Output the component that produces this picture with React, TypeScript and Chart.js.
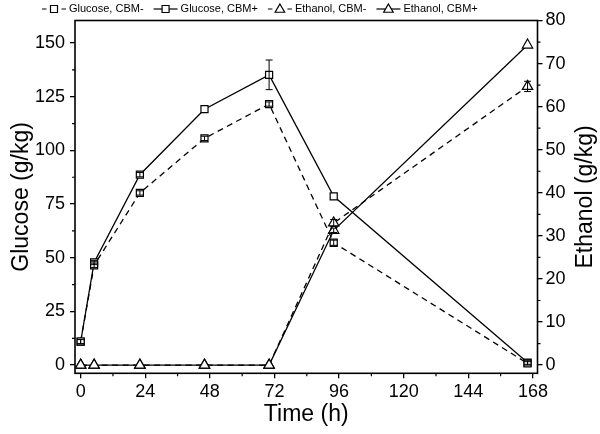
import React, { useEffect, useRef } from 'react';
import { Chart, registerables } from 'chart.js';

Chart.register(...registerables);

const FONT = '"Liberation Sans", Arial, Helvetica, sans-serif';

// ---- data ----
const timeHours = [0, 5, 22, 46, 70, 94, 166];
const glucoseMinus = [11, 46.5, 80.2, 105.6, 121.6, 57, 0.8];
const glucoseMinusErr = [1, 1, 1, 1, 1, 1.2, 0.8];
const glucosePlus = [10.9, 47.8, 88.7, 119.2, 135.2, 78.6, 1.2];
const glucosePlusErr = [1, 1, 1, 0, 6.9, 0, 0.8];
const ethanolMinus = [0, 0, 0, 0, 0, 33, 64.7];
const ethanolMinusErr = [0, 0, 0, 0, 0, 0.8, 1.2];
const ethanolPlus = [0, 0, 0, 0, 0, 31.3, 74.3];
const ethanolPlusErr = [0, 0, 0, 0, 0, 0.5, 0];

const xTicks = [0, 24, 48, 72, 96, 120, 144, 168];
const xMinorTicks = [12, 36, 60, 84, 108, 132, 156];
const glucoseTicks = [0, 25, 50, 75, 100, 125, 150];
const glucoseMinorTicks = [12.5, 37.5, 62.5, 87.5, 112.5, 137.5];
const ethanolTicks = [0, 10, 20, 30, 40, 50, 60, 70, 80];
const ethanolMinorTicks = [5, 15, 25, 35, 45, 55, 65, 75];

const seriesLabels = ['Glucose, CBM-', 'Glucose, CBM+', 'Ethanol, CBM-', 'Ethanol, CBM+'];
const ethanolAxisTitle = 'Ethanol (g/kg)';

const DASH = [6, 4.5];

function drawMarker(ctx: CanvasRenderingContext2D, style: string, x: number, y: number) {
  ctx.save();
  ctx.fillStyle = '#fff';
  ctx.strokeStyle = '#000';
  ctx.lineWidth = 1.2;
  ctx.setLineDash([]);
  ctx.beginPath();
  if (style === 'rect') {
    ctx.rect(x - 3.5, y - 3.5, 7, 7);
  } else {
    const r = 5.5;
    ctx.moveTo(x, y - r);
    ctx.lineTo(x + r * 0.866, y + r * 0.5);
    ctx.lineTo(x - r * 0.866, y + r * 0.5);
    ctx.closePath();
  }
  ctx.fill();
  ctx.stroke();
  ctx.restore();
}

const customPlugin = {
  id: 'customDecor',
  afterDatasetsDraw(chart: any) {
    const ctx: CanvasRenderingContext2D = chart.ctx;
    ctx.save();
    ctx.strokeStyle = '#000';
    ctx.lineWidth = 1;
    ctx.setLineDash([]);
    chart.data.datasets.forEach((ds: any, i: number) => {
      const meta = chart.getDatasetMeta(i);
      const yScale = chart.scales[ds.yAxisID];
      const errs: number[] = ds.errorBars || [];
      meta.data.forEach((pt: any, j: number) => {
        const e = errs[j];
        if (!e) return;
        const v = ds.data[j].y;
        const y1 = yScale.getPixelForValue(v - e);
        const y2 = yScale.getPixelForValue(v + e);
        ctx.beginPath();
        ctx.moveTo(pt.x, y1);
        ctx.lineTo(pt.x, y2);
        ctx.moveTo(pt.x - 3.5, y1);
        ctx.lineTo(pt.x + 3.5, y1);
        ctx.moveTo(pt.x - 3.5, y2);
        ctx.lineTo(pt.x + 3.5, y2);
        ctx.stroke();
      });
    });
    ctx.restore();
  },
  afterDraw(chart: any) {
    const ctx: CanvasRenderingContext2D = chart.ctx;
    const { left, right, top, bottom } = chart.chartArea;
    ctx.save();
    ctx.strokeStyle = '#000';
    ctx.setLineDash([]);
    // minor ticks
    ctx.lineWidth = 1.2;
    ctx.beginPath();
    xMinorTicks.forEach((v) => {
      const px = chart.scales.x.getPixelForValue(v);
      ctx.moveTo(px, bottom);
      ctx.lineTo(px, bottom + 3);
    });
    glucoseMinorTicks.forEach((v) => {
      const py = chart.scales.y.getPixelForValue(v);
      ctx.moveTo(left, py);
      ctx.lineTo(left - 3, py);
    });
    ethanolMinorTicks.forEach((v) => {
      const py = chart.scales.y2.getPixelForValue(v);
      ctx.moveTo(right, py);
      ctx.lineTo(right + 3, py);
    });
    ctx.stroke();
    // frame
    ctx.lineWidth = 1.6;
    ctx.strokeRect(left, top, right - left, bottom - top);

    // right axis title (reads bottom-to-top)
    ctx.save();
    ctx.fillStyle = '#000';
    ctx.font = `23px ${FONT}`;
    ctx.textAlign = 'center';
    ctx.textBaseline = 'middle';
    ctx.translate(586, (top + bottom) / 2);
    ctx.rotate(-Math.PI / 2);
    ctx.fillText(ethanolAxisTitle, 0, 0);
    ctx.restore();

    // legend
    ctx.font = `11px ${FONT}`;
    ctx.fillStyle = '#000';
    ctx.textBaseline = 'middle';
    ctx.textAlign = 'left';
    const ly = 9;
    let lx = 42;
    const styles = ['rect', 'rect', 'triangle', 'triangle'];
    const dashed = [true, false, true, false];
    seriesLabels.forEach((label, i) => {
      ctx.lineWidth = 1.2;
      ctx.beginPath();
      if (dashed[i]) {
        ctx.moveTo(lx, ly);
        ctx.lineTo(lx + 4.5, ly);
        ctx.moveTo(lx + 19.5, ly);
        ctx.lineTo(lx + 24, ly);
      } else {
        ctx.moveTo(lx, ly);
        ctx.lineTo(lx + 24, ly);
      }
      ctx.stroke();
      drawMarker(ctx, styles[i], lx + 12, ly + (styles[i] === 'triangle' ? 0.5 : 0));
      ctx.fillStyle = '#000';
      ctx.fillText(label, lx + 27, ly);
      lx += 27 + ctx.measureText(label).width + 10;
    });
    ctx.restore();
  },
};

export default function App() {
  const canvasRef = useRef<HTMLCanvasElement | null>(null);

  useEffect(() => {
    if (!canvasRef.current) return;
    const toPts = (ys: number[]) => timeHours.map((t, i) => ({ x: t, y: ys[i] }));
    const base = {
      borderColor: '#000',
      borderWidth: 1.3,
      pointBackgroundColor: '#fff',
      pointBorderColor: '#000',
      pointBorderWidth: 1.2,
      fill: false,
      tension: 0,
    };
    const chart = new Chart(canvasRef.current, {
      type: 'line',
      data: {
        datasets: [
          {
            ...base,
            label: seriesLabels[0],
            data: toPts(glucoseMinus),
            errorBars: glucoseMinusErr,
            yAxisID: 'y',
            borderDash: DASH,
            pointStyle: 'rect',
            pointRadius: 5,
          },
          {
            ...base,
            label: seriesLabels[1],
            data: toPts(glucosePlus),
            errorBars: glucosePlusErr,
            yAxisID: 'y',
            pointStyle: 'rect',
            pointRadius: 5,
          },
          {
            ...base,
            label: seriesLabels[2],
            data: toPts(ethanolMinus),
            errorBars: ethanolMinusErr,
            yAxisID: 'y2',
            borderDash: DASH,
            pointStyle: 'triangle',
            pointRadius: 6,
          },
          {
            ...base,
            label: seriesLabels[3],
            data: toPts(ethanolPlus),
            errorBars: ethanolPlusErr,
            yAxisID: 'y2',
            pointStyle: 'triangle',
            pointRadius: 6,
          },
        ] as any,
      },
      options: {
        animation: false,
        responsive: false,
        maintainAspectRatio: false,
        layout: { padding: { top: 20.5, left: 0, right: 0, bottom: 0 } },
        plugins: { legend: { display: false }, tooltip: { enabled: false } },
        scales: {
          x: {
            type: 'linear',
            min: -2.1,
            max: 169.7,
            afterBuildTicks: (s: any) => {
              s.ticks = xTicks.map((v) => ({ value: v }));
            },
            afterFit: (s: any) => {
              s.height = 60.7;
            },
            ticks: {
              font: { family: FONT, size: 18 },
              color: '#000',
              padding: 3,
              maxRotation: 0,
              autoSkip: false,
            },
            grid: { drawOnChartArea: false, tickLength: 5, color: '#000', lineWidth: 1.3 },
            border: { display: false },
            title: {
              display: true,
              text: 'Time (h)',
              font: { family: FONT, size: 23 },
              color: '#000',
              padding: { top: 0, bottom: 6 },
            },
          },
          y: {
            type: 'linear',
            position: 'left',
            min: -3.8,
            max: 160.5,
            afterBuildTicks: (s: any) => {
              s.ticks = glucoseTicks.map((v) => ({ value: v }));
            },
            afterFit: (s: any) => {
              s.width = 75;
            },
            ticks: { font: { family: FONT, size: 18 }, color: '#000', padding: 5 },
            grid: { drawOnChartArea: false, tickLength: 5, color: '#000', lineWidth: 1.3 },
            border: { display: false },
            title: {
              display: true,
              text: 'Glucose (g/kg)',
              font: { family: FONT, size: 23 },
              color: '#000',
              padding: { top: 8, bottom: 0 },
            },
          },
          y2: {
            type: 'linear',
            position: 'right',
            min: -1.9,
            max: 80,
            afterBuildTicks: (s: any) => {
              s.ticks = ethanolTicks.map((v) => ({ value: v }));
            },
            afterFit: (s: any) => {
              s.width = 62.5;
            },
            ticks: { font: { family: FONT, size: 18 }, color: '#000', padding: 3 },
            grid: { drawOnChartArea: false, tickLength: 5, color: '#000', lineWidth: 1.3 },
            border: { display: false },
            title: { display: false },
          },
        },
      } as any,
      plugins: [customPlugin as any],
    });
    return () => chart.destroy();
  }, []);

  return (
    <div style={{ position: 'absolute', left: 0, top: 0, width: 600, height: 434, background: '#fff' }}>
      <canvas ref={canvasRef} width={600} height={434} style={{ display: 'block', width: 600, height: 434 }} />
    </div>
  );
}
